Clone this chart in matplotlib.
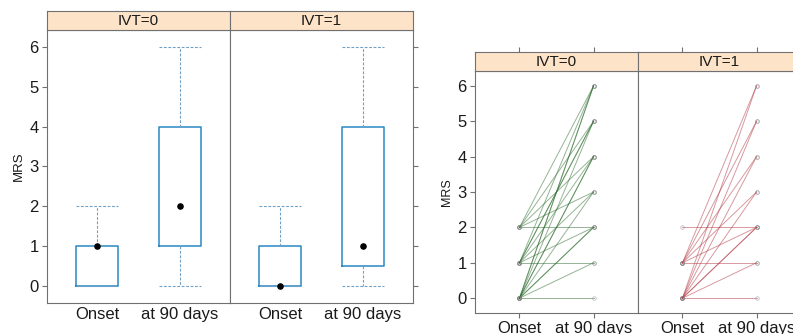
import matplotlib
matplotlib.use("Agg")
import matplotlib.pyplot as plt

plt.rcParams['font.family'] = ['Liberation Sans', 'DejaVu Sans']

groups = ["IVT=0", "IVT=1"]
times = ["Onset", "at 90 days"]

# box plot summaries per group: [onset, 90 days]
box_min = [[0, 0], [0, 0]]
box_q1 = [[0, 1], [0, 0.5]]
box_med = [[1, 2], [0, 1]]
box_q3 = [[1, 4], [1, 4]]
box_max = [[2, 6], [2, 6]]

# paired MRS values (onset, 90 days)
ivt0_onset = [0, 0, 0, 0, 0, 0, 0, 0, 0, 0, 1, 1, 1, 1, 1, 1, 1, 2, 2, 2, 2, 2]
ivt0_day90 = [0, 1, 2, 3, 4, 5, 6, 6, 4, 2, 1, 2, 3, 4, 5, 6, 5, 2, 3, 4, 5, 6]
ivt1_onset = [0, 0, 0, 0, 0, 0, 0, 0, 1, 1, 1, 1, 1, 1, 2]
ivt1_day90 = [0, 1, 2, 3, 4, 5, 6, 2, 1, 2, 3, 4, 5, 6, 2]

line_cols = ["#2a6a2a", "#b03440"]
yticks = [0, 1, 2, 3, 4, 5, 6]

W, H = 793, 334
fig = plt.figure(figsize=(W / 100, H / 100), dpi=100)
frame_col = "#707070"
strip_col = "#fde3c8"
text_col = "#1a1a1a"


def fx(px):
    return px / W


def fy(px):
    return 1 - px / H


def make_panel(x0, x1, ytop, ybot, stop, first, last, top_ticks, bottom_ticks):
    ax = fig.add_axes([fx(x0), fy(ybot), fx(x1 - x0), fy(ytop) - fy(ybot)])
    ax.set_xlim(0.4, 2.6)
    ax.set_ylim(-0.42, 6.42)
    for s in ax.spines.values():
        s.set_color(frame_col)
        s.set_linewidth(0.8)
    ax.set_yticks(yticks)
    ax.tick_params(axis="y", length=3.5, color=frame_col, labelsize=12,
                   labelcolor=text_col, left=first, right=last,
                   labelleft=first, labelright=False, pad=2.5)
    st = fig.add_axes([fx(x0), fy(ytop), fx(x1 - x0), fy(stop) - fy(ytop)])
    st.set_facecolor(strip_col)
    st.set_xlim(0.4, 2.6)
    for s in st.spines.values():
        s.set_color(frame_col)
        s.set_linewidth(0.8)
    st.set_yticks([])
    if top_ticks:
        st.set_xticks([1, 2])
        st.tick_params(axis="x", top=True, bottom=False, labeltop=False,
                       labelbottom=False, length=3.5, color=frame_col)
    else:
        st.set_xticks([])
    return ax, st


def set_xaxis(ax, bottom_ticks):
    ax.set_xticks([1, 2])
    ax.set_xticklabels(times, fontsize=12, color=text_col)
    ax.tick_params(axis="x", length=3.5 if bottom_ticks else 0, color=frame_col,
                   pad=2 if bottom_ticks else 3)


# left chart: box plots
lx = [47, 230, 413]
for g in range(2):
    ax, st = make_panel(lx[g], lx[g + 1], 30, 303, 11, g == 0, g == 1, False, False)
    st.text(0.5, 0.47, groups[g], ha="center", va="center", fontsize=11,
            transform=st.transAxes, color=text_col)
    stats = []
    for t in range(2):
        stats.append({"whislo": box_min[g][t], "q1": box_q1[g][t], "med": box_med[g][t],
                      "q3": box_q3[g][t], "whishi": box_max[g][t], "fliers": []})
    ax.bxp(stats, positions=[1, 2], widths=0.5, capwidths=0.5, showfliers=False,
           manage_ticks=False,
           boxprops=dict(color="#2a87c4", linewidth=1.1),
           whiskerprops=dict(color="#6f9fc4", linestyle=(0, (2.5, 1.5)), linewidth=0.8),
           capprops=dict(color="#6f9fc4", linestyle=(0, (2.5, 1.5)), linewidth=0.8),
           medianprops=dict(linewidth=0))
    ax.scatter([1, 2], box_med[g], s=14, color="black", zorder=5)
    set_xaxis(ax, False)
    if g == 0:
        ax.set_ylabel("MRS", fontsize=9.5, color=text_col, labelpad=3)

# right chart: paired lines
rx = [475, 638, 801]
pairs = [(ivt0_onset, ivt0_day90), (ivt1_onset, ivt1_day90)]
for g in range(2):
    ax, st = make_panel(rx[g], rx[g + 1], 71, 313, 52, g == 0, g == 1, True, True)
    st.text(0.5, 0.47, groups[g], ha="center", va="center", fontsize=11,
            transform=st.transAxes, color=text_col)
    on, d90 = pairs[g]
    for a, b in zip(on, d90):
        ax.plot([1, 2], [a, b], color=line_cols[g], alpha=0.5, linewidth=0.7,
                marker="o", markersize=2.6, markerfacecolor="none",
                markeredgewidth=0.6, markeredgecolor="#8a8a8a")
    set_xaxis(ax, True)
    if g == 0:
        ax.set_ylabel("MRS", fontsize=9, color=text_col, labelpad=3)

fig.savefig("out.png", dpi=100)
